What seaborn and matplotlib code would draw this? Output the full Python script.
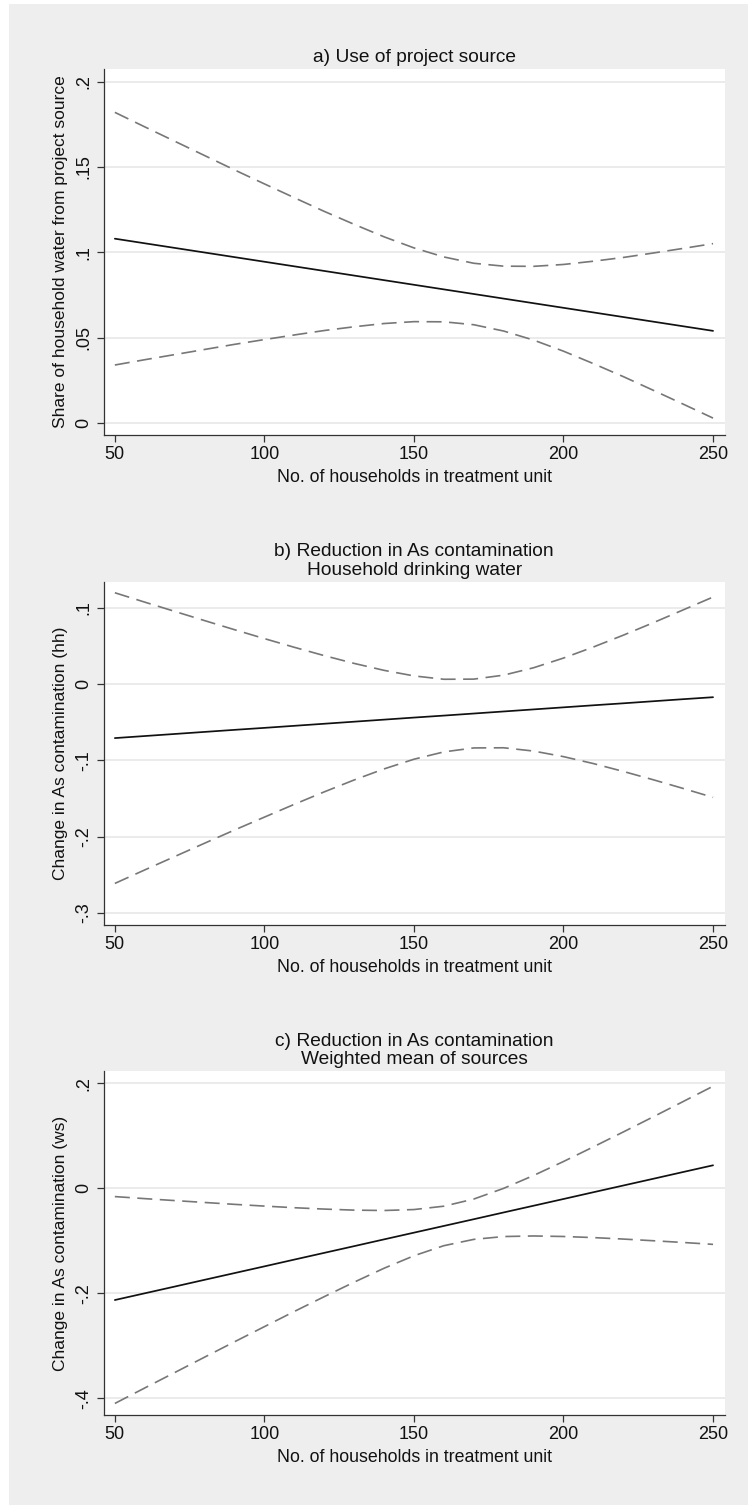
import numpy as np
import pandas as pd
import matplotlib
matplotlib.use("Agg")
import matplotlib.pyplot as plt
import seaborn as sns
from matplotlib.patches import Rectangle

# ---------------- data ----------------
households = [50, 60, 70, 80, 90, 100, 110, 120, 130, 140, 150,
              160, 170, 180, 190, 200, 210, 220, 230, 240, 250]

# a) Use of project source
a_fit = [0.1080, 0.1053, 0.1026, 0.0999, 0.0972, 0.0945, 0.0918, 0.0891, 0.0864, 0.0837, 0.0810,
         0.0783, 0.0756, 0.0729, 0.0702, 0.0675, 0.0648, 0.0621, 0.0594, 0.0567, 0.0540]
a_upper = [0.1820, 0.1735, 0.1651, 0.1567, 0.1483, 0.1401, 0.1320, 0.1240, 0.1164, 0.1091, 0.1026,
           0.0973, 0.0936, 0.0919, 0.0918, 0.0929, 0.0948, 0.0970, 0.0996, 0.1023, 0.1051]
a_lower = [0.0340, 0.0371, 0.0401, 0.0431, 0.0461, 0.0489, 0.0516, 0.0542, 0.0564, 0.0583, 0.0594,
           0.0593, 0.0576, 0.0539, 0.0486, 0.0421, 0.0348, 0.0272, 0.0192, 0.0111, 0.0029]

# b) Reduction in As contamination - household drinking water
b_fit = [-0.0710, -0.0683, -0.0656, -0.0629, -0.0602, -0.0576, -0.0549, -0.0522, -0.0495, -0.0468, -0.0441,
         -0.0415, -0.0388, -0.0361, -0.0334, -0.0307, -0.0280, -0.0254, -0.0227, -0.0200, -0.0174]
b_upper = [0.1195, 0.1072, 0.0951, 0.0830, 0.0711, 0.0594, 0.0480, 0.0371, 0.0269, 0.0178, 0.0105,
           0.0061, 0.0063, 0.0115, 0.0212, 0.0339, 0.0484, 0.0639, 0.0802, 0.0970, 0.1139]
b_lower = [-0.2615, -0.2438, -0.2263, -0.2088, -0.1915, -0.1746, -0.1578, -0.1415, -0.1259, -0.1114, -0.0987,
           -0.0891, -0.0839, -0.0837, -0.0880, -0.0953, -0.1044, -0.1147, -0.1256, -0.1370, -0.1487]

# c) Reduction in As contamination - weighted mean of sources
c_fit = [-0.2128, -0.2000, -0.1872, -0.1743, -0.1615, -0.1487, -0.1358, -0.1230, -0.1102, -0.0973, -0.0845,
         -0.0717, -0.0589, -0.0460, -0.0332, -0.0204, -0.0075, 0.0053, 0.0181, 0.0310, 0.0438]
c_upper = [-0.0158, -0.0197, -0.0234, -0.0270, -0.0306, -0.0339, -0.0370, -0.0396, -0.0416, -0.0423, -0.0405,
           -0.0341, -0.0205, -0.0001, 0.0244, 0.0510, 0.0789, 0.1073, 0.1361, 0.1652, 0.1944]
c_lower = [-0.4098, -0.3803, -0.3510, -0.3216, -0.2924, -0.2635, -0.2346, -0.2064, -0.1788, -0.1523, -0.1285,
           -0.1093, -0.0973, -0.0919, -0.0908, -0.0918, -0.0939, -0.0967, -0.0999, -0.1032, -0.1068]

titles = ["a) Use of project source",
          "b) Reduction in As contamination\nHousehold drinking water",
          "c) Reduction in As contamination\nWeighted mean of sources"]
ylabels = ["Share of household water from project source",
           "Change in As contamination (hh)",
           "Change in As contamination (ws)"]
xlabel = "No. of households in treatment unit"
xticks = [50, 100, 150, 200, 250]
yticks_a = [0, 0.05, 0.1, 0.15, 0.2]
yticklabels_a = ["0", ".05", ".1", ".15", ".2"]
yticks_b = [-0.3, -0.2, -0.1, 0, 0.1]
yticklabels_b = ["-.3", "-.2", "-.1", "0", ".1"]
yticks_c = [-0.4, -0.2, 0, 0.2]
yticklabels_c = ["-.4", "-.2", "0", ".2"]

# ---------------- style ----------------
sns.set_theme(style="white")
plt.rcParams['font.family'] = ['Liberation Sans', 'DejaVu Sans']

W, H = 748, 1505
fig = plt.figure(figsize=(W / 100, H / 100), dpi=100, facecolor='#eeeeee')
fig.add_artist(Rectangle((0, 0), 9 / W, 1, transform=fig.transFigure,
                         facecolor='white', edgecolor='none', zorder=-5))
fig.add_artist(Rectangle((0, 1 - 4 / H), 1, 4 / H, transform=fig.transFigure,
                         facecolor='white', edgecolor='none', zorder=-5))

left, right = 103.5, 725
panels = [
    dict(top=69, bottom=435, fit=a_fit, up=a_upper, lo=a_lower,
         ylim=(-0.007, 0.2074), yt=yticks_a, ytl=yticklabels_a),
    dict(top=581.7, bottom=925, fit=b_fit, up=b_upper, lo=b_lower,
         ylim=(-0.316, 0.134), yt=yticks_b, ytl=yticklabels_b),
    dict(top=1071, bottom=1415, fit=c_fit, up=c_upper, lo=c_lower,
         ylim=(-0.4318, 0.2234), yt=yticks_c, ytl=yticklabels_c),
]

for i, p in enumerate(panels):
    ax = fig.add_axes([left / W, 1 - p['bottom'] / H, (right - left) / W,
                       (p['bottom'] - p['top']) / H])
    ax.set_facecolor('white')
    df = pd.DataFrame({'x': households, 'fit': p['fit'], 'up': p['up'], 'lo': p['lo']})
    sns.lineplot(data=df, x='x', y='up', ax=ax, color='#777777', lw=1.2)
    ax.lines[-1].set_dashes([9, 4.5])
    sns.lineplot(data=df, x='x', y='lo', ax=ax, color='#777777', lw=1.2)
    ax.lines[-1].set_dashes([9, 4.5])
    sns.lineplot(data=df, x='x', y='fit', ax=ax, color='#111111', lw=1.25)

    ax.set_xlim(46.2, 254)
    ax.set_ylim(*p['ylim'])
    ax.set_xticks(xticks)
    ax.set_xticklabels([str(t) for t in xticks])
    ax.set_yticks(p['yt'])
    ax.set_yticklabels(p['ytl'], rotation=90, va='center')
    ax.yaxis.grid(True, color='#e8e8e8', lw=1.2)
    ax.xaxis.grid(False)
    ax.set_axisbelow(True)
    for s in ['top', 'right']:
        ax.spines[s].set_visible(False)
    for s in ['left', 'bottom']:
        ax.spines[s].set_color('#333333')
        ax.spines[s].set_linewidth(0.9)
    ax.tick_params(direction='out', length=5, width=0.9, color='#333333',
                   labelsize=13, pad=3, left=True, bottom=True, labelcolor='#111111')
    ax.set_xlabel(xlabel, fontsize=12.8, labelpad=4, color='#111111')
    ax.set_ylabel(ylabels[i], fontsize=12.5, labelpad=5, color='#111111')
    ax.set_title(titles[i], fontsize=13.8, pad=5, color='#111111', linespacing=1.1)

fig.savefig('out.png', dpi=100, facecolor=fig.get_facecolor())
